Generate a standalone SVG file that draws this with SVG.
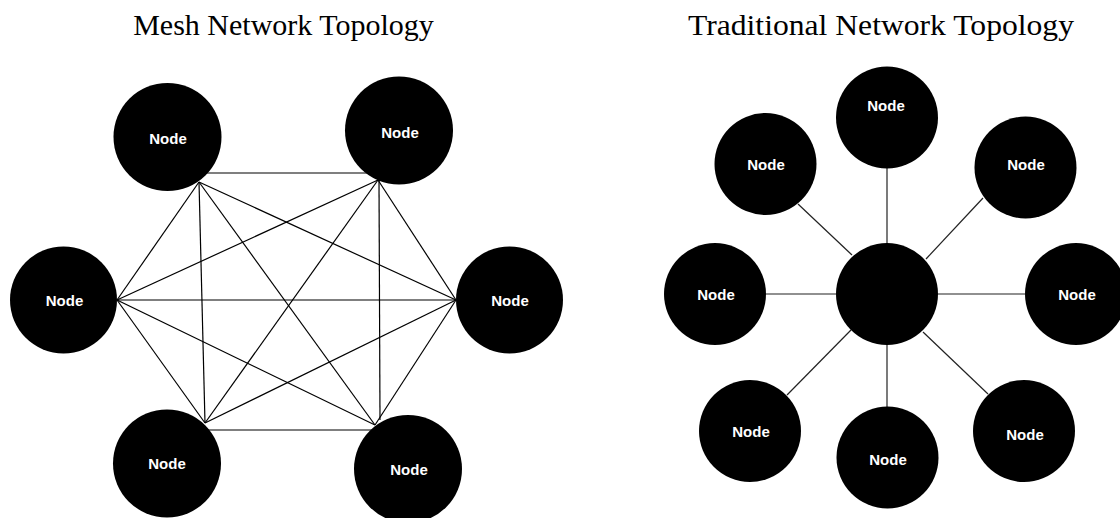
<svg xmlns="http://www.w3.org/2000/svg" width="1120" height="518" viewBox="0 0 1120 518">
<style>
.title{font-family:"Liberation Serif","Times New Roman",serif;font-size:30px;fill:#000;text-anchor:middle}
.node{fill:#000}
.lbl{font-family:"Liberation Sans",Arial,sans-serif;font-size:15px;font-weight:bold;fill:#fff;text-anchor:middle}
.edge{stroke:#000;stroke-width:1.2;fill:none}
.star{stroke:#222;stroke-width:1.2;fill:none}
</style>
<rect width="1120" height="518" fill="#fff"/>
<text class="title" x="283.5" y="35">Mesh Network Topology</text>
<text class="title" x="881" y="35" textLength="386" lengthAdjust="spacingAndGlyphs">Traditional Network Topology</text>
<g id="mesh-connectors">
<line class="edge" x1="202" y1="173" x2="370" y2="173"/>
<line class="edge" x1="199" y1="182" x2="117" y2="300"/>
<line class="edge" x1="199" y1="182" x2="456" y2="300"/>
<line class="edge" x1="199" y1="182" x2="205" y2="423"/>
<line class="edge" x1="199" y1="182" x2="375" y2="425"/>
<line class="edge" x1="378" y1="180" x2="117" y2="300"/>
<line class="edge" x1="378" y1="180" x2="456" y2="300"/>
<line class="edge" x1="378" y1="180" x2="205" y2="423"/>
<line class="edge" x1="379" y1="180" x2="380" y2="420"/>
<line class="edge" x1="117" y1="300" x2="456" y2="300"/>
<line class="edge" x1="117" y1="300" x2="205" y2="423"/>
<line class="edge" x1="117" y1="300" x2="375" y2="425"/>
<line class="edge" x1="456" y1="300" x2="205" y2="423"/>
<line class="edge" x1="456" y1="300" x2="375" y2="425"/>
<line class="edge" x1="208" y1="430" x2="372" y2="430"/>
</g>
<g id="star-connectors">
<line class="star" x1="887" y1="168" x2="887" y2="243"/>
<line class="star" x1="798" y1="204" x2="852" y2="255"/>
<line class="star" x1="983" y1="198" x2="926" y2="259"/>
<line class="star" x1="766" y1="294" x2="836" y2="294"/>
<line class="star" x1="938" y1="294" x2="1025" y2="294"/>
<line class="star" x1="851" y1="330" x2="787" y2="395"/>
<line class="star" x1="887" y1="345" x2="887" y2="407"/>
<line class="star" x1="923" y1="332" x2="988" y2="394"/>
</g>
<g id="mesh-a"><circle class="node" cx="167.5" cy="137" r="54"/><text class="lbl" x="168" y="143.5">Node</text></g>
<g id="mesh-b"><circle class="node" cx="399" cy="130.5" r="54"/><text class="lbl" x="400" y="137.5">Node</text></g>
<g id="mesh-c"><circle class="node" cx="63.5" cy="300" r="53.5"/><text class="lbl" x="64.5" y="305.5">Node</text></g>
<g id="mesh-d"><circle class="node" cx="509.5" cy="300" r="53.5"/><text class="lbl" x="510" y="305.5">Node</text></g>
<g id="mesh-e"><circle class="node" cx="167" cy="463.5" r="54"/><text class="lbl" x="167" y="468.5">Node</text></g>
<g id="mesh-f"><circle class="node" cx="408" cy="469" r="54"/><text class="lbl" x="409" y="474.5">Node</text></g>
<g id="star-top"><circle class="node" cx="887" cy="117.5" r="51"/><text class="lbl" x="886" y="110.5">Node</text></g>
<g id="star-ul"><circle class="node" cx="765.5" cy="164" r="51"/><text class="lbl" x="766" y="170">Node</text></g>
<g id="star-ur"><circle class="node" cx="1025.5" cy="167.5" r="51"/><text class="lbl" x="1026" y="170">Node</text></g>
<g id="star-l"><circle class="node" cx="715" cy="294" r="51"/><text class="lbl" x="716" y="299.5">Node</text></g>
<g id="star-center"><circle class="node" cx="887" cy="294" r="51"/></g>
<g id="star-r"><circle class="node" cx="1076" cy="294" r="51"/><text class="lbl" x="1077" y="299.5">Node</text></g>
<g id="star-bl"><circle class="node" cx="750" cy="431" r="51"/><text class="lbl" x="751" y="436.5">Node</text></g>
<g id="star-b"><circle class="node" cx="887.5" cy="457.5" r="51"/><text class="lbl" x="888" y="464.5">Node</text></g>
<g id="star-br"><circle class="node" cx="1024" cy="431" r="51"/><text class="lbl" x="1025" y="439.5">Node</text></g>
</svg>
